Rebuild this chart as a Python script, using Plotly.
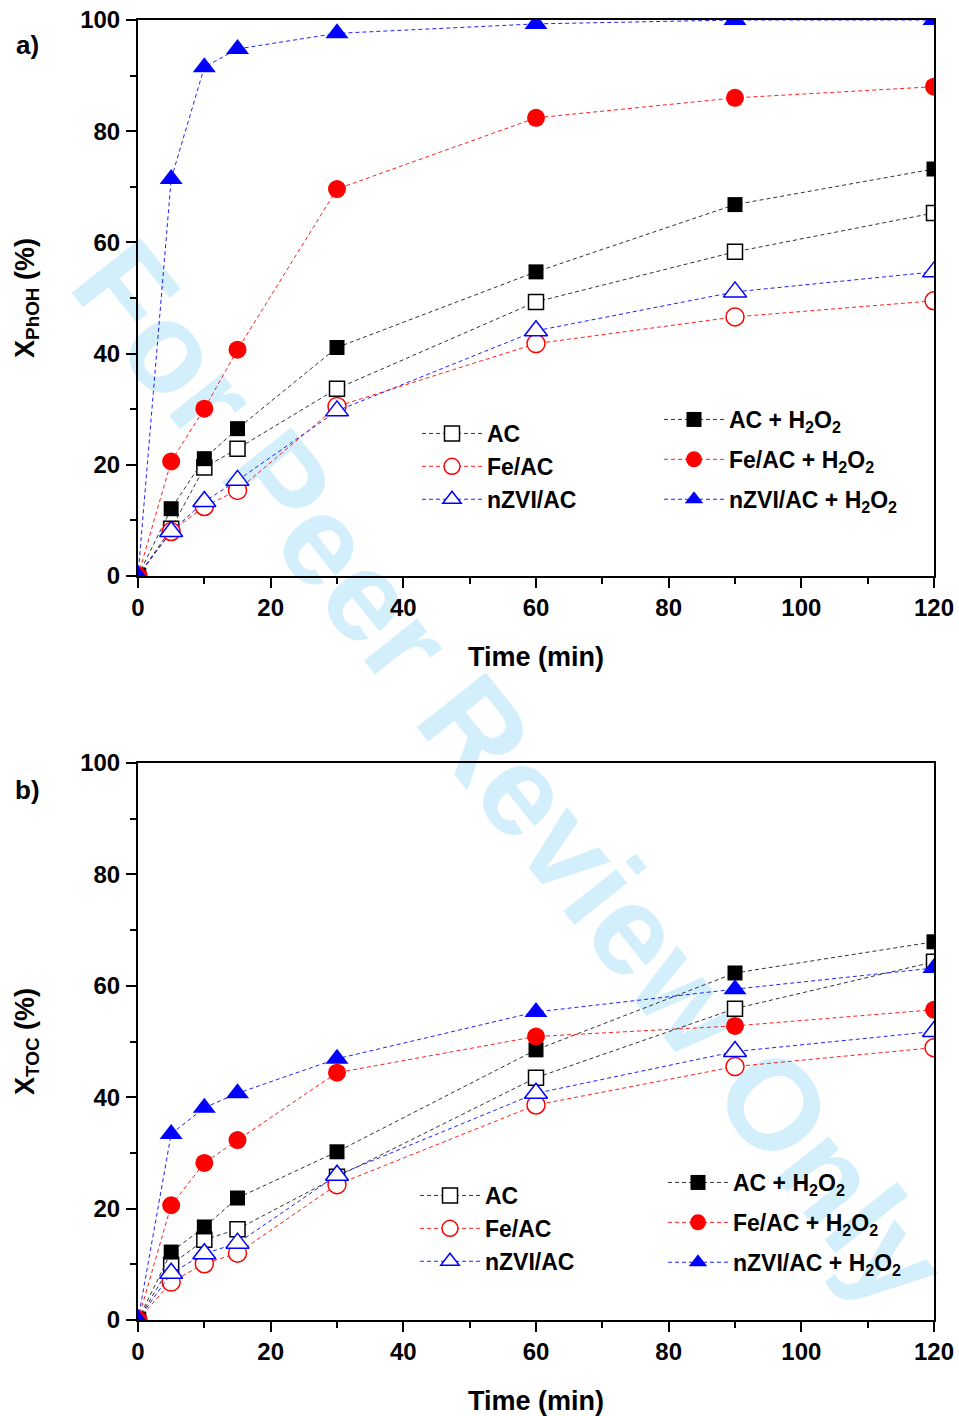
import plotly.graph_objects as go

# ---------------- data ----------------
time_min = [0, 5, 10, 15, 30, 60, 90, 120]

# Panel a) phenol conversion X_PhOH (%)
phoh_ac = [0, 8.5, 19.5, 22.9, 33.7, 49.3, 58.3, 65.3]
phoh_feac = [0, 8.0, 12.5, 15.4, 30.5, 41.8, 46.6, 49.5]
phoh_nzvi = [0, 8.0, 13.4, 17.2, 29.7, 44.1, 51.1, 54.7]
phoh_ac_h2o2 = [0, 12.1, 21.1, 26.5, 41.1, 54.7, 66.8, 73.2]
phoh_feac_h2o2 = [0, 20.6, 30.1, 40.7, 69.6, 82.4, 86.0, 88.0]
phoh_nzvi_h2o2 = [0, 71.4, 91.5, 94.8, 97.6, 99.3, 100, 100]

# Panel b) TOC conversion X_TOC (%)
toc_ac = [0, 9.9, 14.4, 16.3, 25.7, 43.5, 55.9, 64.3]
toc_feac = [0, 6.8, 10.1, 12.0, 24.3, 38.6, 45.5, 48.9]
toc_nzvi = [0, 8.4, 11.9, 13.8, 26.0, 40.7, 48.2, 51.8]
toc_ac_h2o2 = [0, 12.2, 16.7, 21.9, 30.2, 48.5, 62.3, 67.9]
toc_feac_h2o2 = [0, 20.6, 28.2, 32.3, 44.4, 50.9, 52.8, 55.7]
toc_nzvi_h2o2 = [0, 33.4, 38.1, 40.7, 46.9, 55.3, 59.4, 63.2]

labels_plain = ["AC", "Fe/AC", "nZVI/AC"]
labels_h2o2 = ["AC + H<sub>2</sub>O<sub>2</sub>",
               "Fe/AC + H<sub>2</sub>O<sub>2</sub>",
               "nZVI/AC + H<sub>2</sub>O<sub>2</sub>"]
x_ticks = [0, 20, 40, 60, 80, 100, 120]
y_ticks = [0, 20, 40, 60, 80, 100]

FONT = "Liberation Sans, Arial, sans-serif"
colors = ["#000000", "#ff0000", "#0000ff"]
line_colors = ["#333333", "#ff2020", "#2020ff"]
symbols = ["square", "circle", "triangle-up"]
sizes = [15, 18, 20]

fig = go.Figure()


def add_panel(series_plain, series_h2o2, xa, ya, leg_a, leg_b, tag):
    for i, ys in enumerate(series_plain):
        fig.add_trace(go.Scatter(
            x=time_min, y=ys, mode="lines+markers", name=labels_plain[i],
            xaxis=xa, yaxis=ya, legend=leg_a,
            line=dict(color=line_colors[i], width=1, dash="4px,3px"),
            marker=dict(symbol=symbols[i], size=sizes[i], color="white",
                        line=dict(color=colors[i], width=1.5)),
        ))
    for i, ys in enumerate(series_h2o2):
        fig.add_trace(go.Scatter(
            x=time_min, y=ys, mode="lines+markers", name=labels_h2o2[i],
            xaxis=xa, yaxis=ya, legend=leg_b, legendgroup=f"{tag}{i}",
            line=dict(color=line_colors[i], width=1, dash="4px,3px"),
            marker=dict(symbol=symbols[i], size=sizes[i], color=colors[i],
                        line=dict(width=0)),
        ))


add_panel([phoh_ac, phoh_feac, phoh_nzvi],
          [phoh_ac_h2o2, phoh_feac_h2o2, phoh_nzvi_h2o2],
          "x", "y", "legend", "legend2", "a")
add_panel([toc_ac, toc_feac, toc_nzvi],
          [toc_ac_h2o2, toc_feac_h2o2, toc_nzvi_h2o2],
          "x2", "y2", "legend3", "legend4", "b")

tickfont = dict(family=FONT, size=24, color="black", weight="bold")
titlefont = dict(family=FONT, size=27, color="black", weight="bold")

xcommon = dict(range=[0, 120], tickvals=x_ticks, ticks="outside", ticklen=10,
               tickwidth=2, tickcolor="black", showline=True, linewidth=2,
               linecolor="black", mirror=True, showgrid=False, zeroline=False,
               tickfont=tickfont, automargin=False, ticklabelstandoff=-1,
               ticklabeloverflow="allow",
               minor=dict(dtick=10, tick0=0, ticks="outside", ticklen=6,
                          tickwidth=1.5, tickcolor="black"),
               title=dict(text="Time (min)", font=titlefont, standoff=27))
ycommon = dict(range=[0, 100], tickvals=y_ticks, ticks="outside", ticklen=10,
               tickwidth=2, tickcolor="black", showline=True, linewidth=2,
               linecolor="black", mirror=True, showgrid=False, zeroline=False,
               tickfont=tickfont, ticklabelstandoff=1, automargin=False,
               ticklabeloverflow="allow",
               minor=dict(dtick=10, tick0=0, ticks="outside", ticklen=6,
                          tickwidth=1.5, tickcolor="black"))

# plot areas (screen pixels): x 138..934, top panel y 20..576, bottom y 763..1320
top_dom = [(1320 - 576) / 1300, 1.0]
bot_dom = [0.0, (1320 - 763) / 1300]

mirror_x = dict(side="top", range=[0, 17], dtick=1, ticks="outside", ticklen=3,
                tickwidth=1, tickcolor="black", showticklabels=False,
                showline=False, showgrid=False, zeroline=False, automargin=False)
mirror_y = dict(side="right", range=[0, 6], dtick=1, ticks="inside", ticklen=3,
                tickwidth=1, tickcolor="black", showticklabels=False,
                showline=False, showgrid=False, zeroline=False, automargin=False)

fig.update_layout(
    xaxis=dict(domain=[0, 1], anchor="y", **xcommon),
    yaxis=dict(domain=top_dom, anchor="x",
               title=dict(text="X<sub>PhOH</sub> (%)", font=titlefont, standoff=38),
               **ycommon),
    xaxis2=dict(domain=[0, 1], anchor="y2", **xcommon),
    yaxis2=dict(domain=bot_dom, anchor="x2",
                title=dict(text="X<sub>TOC</sub> (%)", font=titlefont, standoff=38),
                **ycommon),
    xaxis3=dict(overlaying="x", anchor="y", **mirror_x),
    yaxis3=dict(overlaying="y", anchor="x", **mirror_y),
    xaxis4=dict(overlaying="x2", anchor="y2", **mirror_x),
    yaxis4=dict(overlaying="y2", anchor="x2", **mirror_y),
    width=959, height=1416,
    margin=dict(l=138, r=25, t=20, b=96, autoexpand=False),
    paper_bgcolor="white", plot_bgcolor="rgba(0,0,0,0)",
    font=dict(family=FONT, color="black"),
)

legfont = dict(family=FONT, size=23, color="black", weight="bold")
legcommon = dict(bgcolor="rgba(0,0,0,0)", borderwidth=0, itemwidth=60,
                 font=legfont, xanchor="left", yanchor="top", itemclick=False)


def px_x(p):
    return (p - 138) / 796


def px_y(p):
    return (1320 - p) / 1300


fig.update_layout(
    legend=dict(x=px_x(417), y=px_y(412), tracegroupgap=0, **legcommon),
    legend2=dict(x=px_x(659), y=px_y(398), tracegroupgap=7, **legcommon),
    legend3=dict(x=px_x(415), y=px_y(1174), tracegroupgap=0, **legcommon),
    legend4=dict(x=px_x(663), y=px_y(1161), tracegroupgap=7, **legcommon),
)

# panel labels
for txt, yy in [("a)", 45), ("b)", 790)]:
    fig.add_annotation(text=txt, xref="paper", yref="paper", x=px_x(27),
                       y=px_y(yy), xanchor="center", yanchor="middle",
                       showarrow=False,
                       font=dict(family=FONT, size=26, color="black", weight="bold"))

# watermark
fig.add_shape(type="rect", xref="paper", yref="paper",
              x0=px_x(420), x1=px_x(620), y0=px_y(866), y1=px_y(666),
              line=dict(width=0), fillcolor="rgba(0,0,0,0)", layer="below",
              label=dict(text="For Peer Review Only", textangle=51.5,
                         textposition="middle center",
                         font=dict(family=FONT, size=128, color="#d3effb",
                                   weight="bold")))

# remove the default 8 px page margin so the figure fills the window exactly
fig.write_html("out.html",
               config={"displayModeBar": False},
               post_script="document.body.style.margin='0';"
                           "document.body.style.overflow='hidden';")
